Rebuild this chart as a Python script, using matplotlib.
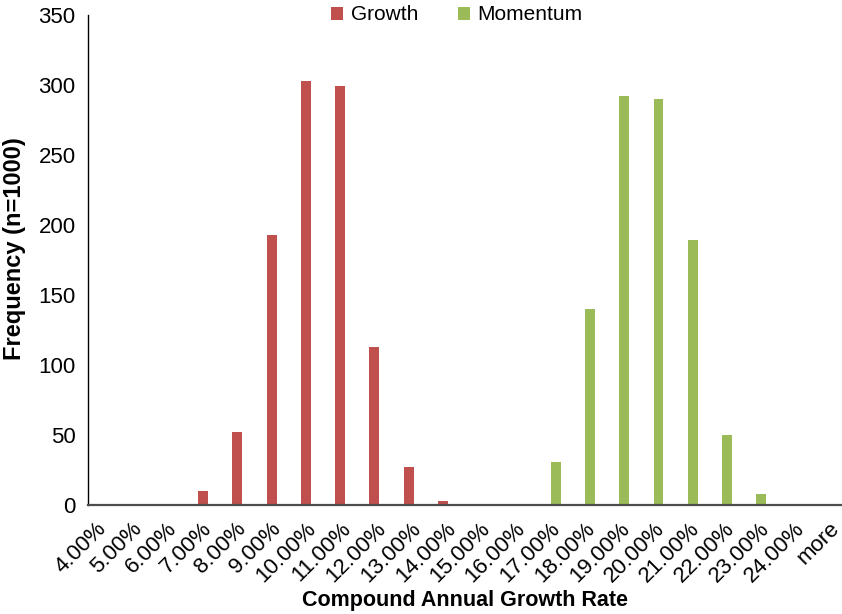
import numpy as np
import matplotlib
matplotlib.use("Agg")
import matplotlib.pyplot as plt

plt.rcParams["font.family"] = ["Liberation Sans", "DejaVu Sans"]

# data
bins = ["4.00%", "5.00%", "6.00%", "7.00%", "8.00%", "9.00%", "10.00%", "11.00%",
        "12.00%", "13.00%", "14.00%", "15.00%", "16.00%", "17.00%", "18.00%",
        "19.00%", "20.00%", "21.00%", "22.00%", "23.00%", "24.00%", "more"]
growth = [0, 0, 0, 10, 52, 193, 303, 299, 113, 27, 3, 0, 0, 0, 0, 0, 0, 0, 0, 0, 0, 0]
momentum = [0, 0, 0, 0, 0, 0, 0, 0, 0, 0, 0, 0, 0, 31, 140, 292, 290, 189, 50, 8, 0, 0]

fig = plt.figure(figsize=(8.42, 6.14), dpi=100)
ax = fig.add_axes([88 / 842, 1 - 505 / 614, 754 / 842, 490 / 614])

x = np.arange(len(bins))
w = 0.29
ax.bar(x - w / 2, growth, w, color="#C0504D", label="Growth")
ax.bar(x + w / 2, momentum, w, color="#9BBB59", label="Momentum")

ax.set_xlim(-0.5, len(bins) - 0.5)
ax.set_ylim(0, 350)
ax.set_yticks(range(0, 351, 50))
# labels in the original drift slightly right of the bars
ax.set_xticks(x * 1.018 - 0.05)
ax.set_xticklabels(bins, rotation=45, ha="right", va="center", rotation_mode="anchor")
ax.tick_params(axis="both", length=0, labelsize=16)
ax.tick_params(axis="y", pad=9)
ax.tick_params(axis="x", pad=15)

for s in ["top", "right"]:
    ax.spines[s].set_visible(False)
ax.spines["left"].set_color("black")
ax.spines["left"].set_linewidth(1.0)
ax.spines["bottom"].set_color("#4d4d4d")
ax.spines["bottom"].set_linewidth(1.6)

ax.set_xlabel("Compound Annual Growth Rate", fontsize=15.5, fontweight="bold", va="center")
ax.xaxis.set_label_coords(0.5, -0.194)
ax.set_ylabel("Frequency (n=1000)", fontsize=17, fontweight="bold", va="center")
ax.yaxis.set_label_coords(-0.097, 0.524)

ax.legend(loc="center", bbox_to_anchor=(0.489, 1.0), ncol=2, frameon=False,
          fontsize=15, handlelength=0.6, handleheight=0.6, handletextpad=0.35,
          columnspacing=1.9)

fig.savefig("out.png", dpi=100)
